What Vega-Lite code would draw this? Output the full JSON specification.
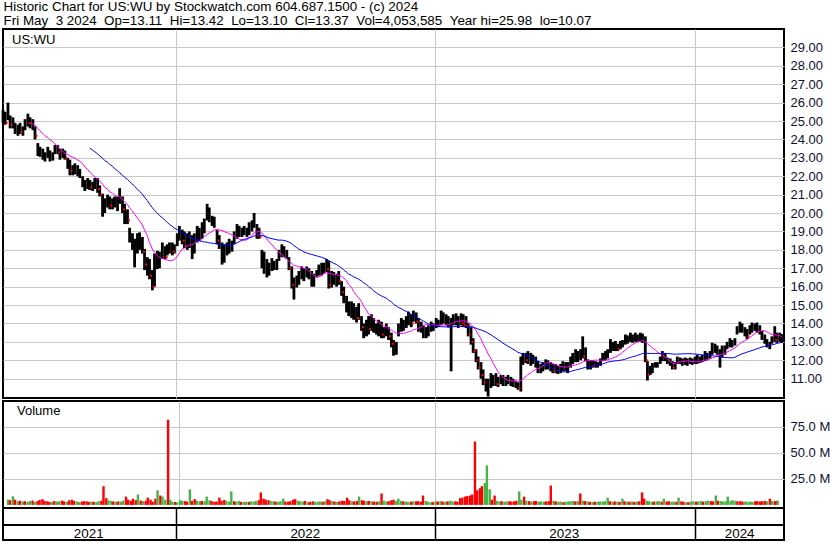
{
"$schema": "https://vega.github.io/schema/vega-lite/v6.json",
"padding": 0,
"background": "white",
"bounds": "flush",
"title": {"text": "Historic Chart for US:WU by Stockwatch.com 604.687.1500 - (c) 2024", "subtitle": "Fri May\u20073 2024\u2007Op=13.11\u2007Hi=13.42\u2007Lo=13.10\u2007Cl=13.37\u2007Vol=4,053,585\u2007Year hi=25.98\u2007lo=10.07", "anchor": "start", "font": "Liberation Sans", "fontSize": 13.4, "fontWeight": "normal", "color": "black", "subtitleFont": "Liberation Sans", "subtitleFontSize": 13.4, "subtitleColor": "black", "subtitlePadding": 0, "offset": 1, "dx": 3},
"datasets": {"p": [
{"d":"2021-05-03","h":25.6,"l":24.9,"c":25.2,"v":5.2},
{"d":"2021-05-06","h":25.5,"l":24.8,"c":24.9,"v":4.5},
{"d":"2021-05-10","h":26.0,"l":25.05,"c":25.7,"v":8.3},
{"d":"2021-05-13","h":25.3,"l":24.6,"c":24.8,"v":5.0},
{"d":"2021-05-17","h":25.2,"l":24.6,"c":25.0,"v":3.6},
{"d":"2021-05-20","h":24.9,"l":24.3,"c":24.5,"v":4.0},
{"d":"2021-05-24","h":24.8,"l":24.2,"c":24.6,"v":3.2},
{"d":"2021-05-27","h":24.9,"l":24.3,"c":24.4,"v":3.5},
{"d":"2021-05-31","h":24.7,"l":24.2,"c":24.5,"v":2.9},
{"d":"2021-06-03","h":25.1,"l":24.5,"c":25.0,"v":3.8},
{"d":"2021-06-07","h":25.4,"l":24.7,"c":24.9,"v":4.2},
{"d":"2021-06-10","h":25.2,"l":24.6,"c":25.1,"v":3.1},
{"d":"2021-06-14","h":25.1,"l":24.5,"c":24.7,"v":3.6},
{"d":"2021-06-17","h":24.7,"l":24.0,"c":24.2,"v":4.8},
{"d":"2021-06-21","h":23.8,"l":23.1,"c":23.4,"v":5.5},
{"d":"2021-06-24","h":23.6,"l":23.05,"c":23.3,"v":3.9},
{"d":"2021-06-28","h":23.5,"l":22.9,"c":23.2,"v":3.4},
{"d":"2021-07-01","h":23.3,"l":22.8,"c":23.1,"v":2.8},
{"d":"2021-07-05","h":23.6,"l":23.0,"c":23.4,"v":3.0},
{"d":"2021-07-08","h":23.4,"l":22.8,"c":23.0,"v":3.7},
{"d":"2021-07-12","h":23.3,"l":22.85,"c":23.2,"v":3.2},
{"d":"2021-07-15","h":23.7,"l":23.2,"c":23.6,"v":3.5},
{"d":"2021-07-19","h":23.7,"l":23.2,"c":23.3,"v":4.1},
{"d":"2021-07-22","h":23.5,"l":22.9,"c":23.1,"v":3.3},
{"d":"2021-07-26","h":23.5,"l":23.0,"c":23.4,"v":2.9},
{"d":"2021-07-29","h":23.4,"l":22.9,"c":23.0,"v":4.4},
{"d":"2021-08-02","h":23.0,"l":22.4,"c":22.6,"v":5.0},
{"d":"2021-08-05","h":22.9,"l":22.05,"c":22.3,"v":3.8},
{"d":"2021-08-09","h":22.6,"l":22.05,"c":22.4,"v":3.3},
{"d":"2021-08-12","h":22.7,"l":22.1,"c":22.5,"v":2.7},
{"d":"2021-08-16","h":22.6,"l":22.0,"c":22.2,"v":3.1},
{"d":"2021-08-19","h":22.4,"l":21.9,"c":22.1,"v":3.6},
{"d":"2021-08-23","h":22.0,"l":21.4,"c":21.6,"v":3.4},
{"d":"2021-08-26","h":21.8,"l":21.2,"c":21.5,"v":2.9},
{"d":"2021-08-30","h":21.9,"l":21.3,"c":21.7,"v":3.2},
{"d":"2021-09-02","h":21.8,"l":21.25,"c":21.4,"v":3.0},
{"d":"2021-09-06","h":21.7,"l":21.2,"c":21.6,"v":2.6},
{"d":"2021-09-09","h":21.9,"l":21.3,"c":21.7,"v":3.5},
{"d":"2021-09-13","h":21.9,"l":21.1,"c":21.3,"v":4.0},
{"d":"2021-09-16","h":21.5,"l":20.9,"c":21.0,"v":18.0},
{"d":"2021-09-20","h":21.05,"l":19.8,"c":20.2,"v":6.5},
{"d":"2021-09-23","h":20.8,"l":20.0,"c":20.6,"v":4.5},
{"d":"2021-09-27","h":21.0,"l":20.3,"c":20.8,"v":3.8},
{"d":"2021-09-30","h":20.9,"l":20.2,"c":20.4,"v":3.4},
{"d":"2021-10-04","h":20.8,"l":20.2,"c":20.6,"v":3.0},
{"d":"2021-10-07","h":20.9,"l":20.3,"c":20.5,"v":3.3},
{"d":"2021-10-11","h":20.9,"l":20.1,"c":20.7,"v":3.1},
{"d":"2021-10-14","h":21.35,"l":20.5,"c":21.1,"v":4.2},
{"d":"2021-10-18","h":20.9,"l":20.0,"c":20.2,"v":8.0},
{"d":"2021-10-21","h":20.5,"l":19.4,"c":19.8,"v":5.0},
{"d":"2021-10-25","h":20.2,"l":19.4,"c":19.6,"v":4.0},
{"d":"2021-10-28","h":19.2,"l":18.4,"c":18.7,"v":6.0},
{"d":"2021-11-01","h":18.9,"l":18.0,"c":18.4,"v":4.5},
{"d":"2021-11-04","h":18.6,"l":17.05,"c":18.5,"v":10.0},
{"d":"2021-11-08","h":18.9,"l":17.8,"c":18.2,"v":4.2},
{"d":"2021-11-11","h":18.95,"l":18.0,"c":18.6,"v":3.6},
{"d":"2021-11-15","h":18.7,"l":17.8,"c":17.9,"v":3.9},
{"d":"2021-11-18","h":18.05,"l":16.9,"c":17.2,"v":7.0},
{"d":"2021-11-22","h":17.6,"l":16.6,"c":17.0,"v":5.0},
{"d":"2021-11-25","h":17.5,"l":16.4,"c":16.6,"v":3.0},
{"d":"2021-11-29","h":16.9,"l":15.8,"c":16.0,"v":6.0},
{"d":"2021-12-02","h":17.8,"l":16.0,"c":17.6,"v":14.0},
{"d":"2021-12-06","h":17.95,"l":16.95,"c":17.3,"v":9.0},
{"d":"2021-12-09","h":17.9,"l":17.0,"c":17.7,"v":8.0},
{"d":"2021-12-13","h":18.4,"l":17.5,"c":17.9,"v":5.0},
{"d":"2021-12-17","h":18.2,"l":17.5,"c":17.6,"v":82.0},
{"d":"2021-12-20","h":18.3,"l":17.7,"c":18.0,"v":5.0},
{"d":"2021-12-23","h":18.4,"l":17.8,"c":18.2,"v":3.0},
{"d":"2021-12-27","h":18.4,"l":17.7,"c":17.9,"v":2.8},
{"d":"2021-12-30","h":18.3,"l":17.8,"c":18.1,"v":2.5},
{"d":"2022-01-03","h":18.9,"l":18.2,"c":18.7,"v":4.5},
{"d":"2022-01-06","h":19.3,"l":18.5,"c":19.0,"v":4.0},
{"d":"2022-01-10","h":19.1,"l":18.3,"c":18.5,"v":3.6},
{"d":"2022-01-13","h":19.0,"l":18.1,"c":18.2,"v":3.2},
{"d":"2022-01-17","h":18.9,"l":18.0,"c":18.7,"v":15.0},
{"d":"2022-01-20","h":19.0,"l":18.1,"c":18.4,"v":4.0},
{"d":"2022-01-24","h":18.8,"l":17.5,"c":18.0,"v":5.5},
{"d":"2022-01-27","h":18.9,"l":17.8,"c":18.6,"v":4.0},
{"d":"2022-01-31","h":19.3,"l":18.4,"c":19.0,"v":3.5},
{"d":"2022-02-03","h":19.2,"l":18.5,"c":18.8,"v":3.8},
{"d":"2022-02-07","h":19.5,"l":18.6,"c":19.2,"v":3.4},
{"d":"2022-02-10","h":19.7,"l":18.9,"c":19.5,"v":8.0},
{"d":"2022-02-14","h":20.5,"l":19.6,"c":20.2,"v":4.5},
{"d":"2022-02-17","h":20.3,"l":19.5,"c":19.8,"v":3.7},
{"d":"2022-02-21","h":19.85,"l":19.3,"c":19.6,"v":3.0},
{"d":"2022-02-24","h":19.8,"l":19.2,"c":19.4,"v":3.3},
{"d":"2022-02-28","h":19.1,"l":18.3,"c":18.5,"v":7.0},
{"d":"2022-03-03","h":18.8,"l":18.05,"c":18.4,"v":4.0},
{"d":"2022-03-07","h":18.4,"l":17.2,"c":17.6,"v":4.8},
{"d":"2022-03-10","h":18.3,"l":17.3,"c":17.9,"v":3.6},
{"d":"2022-03-14","h":18.4,"l":17.7,"c":18.2,"v":3.1},
{"d":"2022-03-17","h":18.6,"l":17.8,"c":18.4,"v":13.0},
{"d":"2022-03-21","h":18.5,"l":17.9,"c":18.3,"v":3.5},
{"d":"2022-03-24","h":19.0,"l":18.3,"c":18.8,"v":3.2},
{"d":"2022-03-28","h":19.4,"l":18.6,"c":19.1,"v":3.8},
{"d":"2022-03-31","h":19.3,"l":18.7,"c":18.9,"v":3.0},
{"d":"2022-04-04","h":19.2,"l":18.7,"c":19.0,"v":2.7},
{"d":"2022-04-07","h":19.3,"l":18.8,"c":19.1,"v":3.1},
{"d":"2022-04-11","h":19.2,"l":18.7,"c":18.9,"v":2.9},
{"d":"2022-04-14","h":19.5,"l":18.8,"c":19.3,"v":3.4},
{"d":"2022-04-18","h":19.6,"l":19.0,"c":19.4,"v":3.2},
{"d":"2022-04-21","h":20.0,"l":19.2,"c":19.7,"v":3.6},
{"d":"2022-04-25","h":19.4,"l":18.6,"c":18.8,"v":4.5},
{"d":"2022-04-28","h":19.2,"l":18.6,"c":18.7,"v":12.0},
{"d":"2022-05-02","h":18.0,"l":17.0,"c":17.3,"v":6.0},
{"d":"2022-05-05","h":17.9,"l":16.7,"c":17.2,"v":5.0},
{"d":"2022-05-09","h":17.5,"l":16.5,"c":16.8,"v":4.5},
{"d":"2022-05-12","h":17.3,"l":16.6,"c":17.0,"v":3.8},
{"d":"2022-05-16","h":17.55,"l":16.85,"c":17.3,"v":3.5},
{"d":"2022-05-19","h":17.4,"l":16.9,"c":17.1,"v":3.2},
{"d":"2022-05-23","h":17.5,"l":16.9,"c":17.4,"v":3.0},
{"d":"2022-05-26","h":18.0,"l":17.4,"c":17.8,"v":3.5},
{"d":"2022-05-30","h":18.3,"l":17.6,"c":18.1,"v":6.0},
{"d":"2022-06-02","h":18.2,"l":17.6,"c":17.8,"v":3.2},
{"d":"2022-06-06","h":18.0,"l":17.5,"c":17.7,"v":3.0},
{"d":"2022-06-09","h":17.6,"l":16.9,"c":17.0,"v":3.6},
{"d":"2022-06-13","h":17.1,"l":15.9,"c":16.1,"v":5.0},
{"d":"2022-06-16","h":16.5,"l":15.3,"c":15.7,"v":5.5},
{"d":"2022-06-20","h":16.6,"l":15.95,"c":16.4,"v":4.0},
{"d":"2022-06-23","h":16.85,"l":16.1,"c":16.6,"v":3.5},
{"d":"2022-06-27","h":17.1,"l":16.4,"c":16.9,"v":3.2},
{"d":"2022-06-30","h":17.0,"l":16.3,"c":16.6,"v":3.8},
{"d":"2022-07-04","h":17.1,"l":16.5,"c":16.9,"v":2.6},
{"d":"2022-07-07","h":17.0,"l":16.4,"c":16.6,"v":3.0},
{"d":"2022-07-11","h":16.85,"l":16.0,"c":16.3,"v":3.4},
{"d":"2022-07-14","h":16.7,"l":16.0,"c":16.5,"v":3.1},
{"d":"2022-07-18","h":16.9,"l":16.5,"c":16.8,"v":2.9},
{"d":"2022-07-21","h":17.2,"l":16.6,"c":17.0,"v":3.3},
{"d":"2022-07-25","h":17.3,"l":16.6,"c":16.9,"v":3.0},
{"d":"2022-07-28","h":17.3,"l":16.7,"c":17.1,"v":3.6},
{"d":"2022-08-01","h":17.5,"l":16.8,"c":16.95,"v":5.5},
{"d":"2022-08-04","h":17.4,"l":15.9,"c":16.1,"v":4.5},
{"d":"2022-08-08","h":16.85,"l":15.95,"c":16.5,"v":3.6},
{"d":"2022-08-11","h":16.8,"l":16.1,"c":16.4,"v":3.2},
{"d":"2022-08-15","h":16.7,"l":16.0,"c":16.5,"v":3.0},
{"d":"2022-08-18","h":16.85,"l":16.1,"c":16.3,"v":3.4},
{"d":"2022-08-22","h":16.3,"l":15.5,"c":15.7,"v":4.0},
{"d":"2022-08-25","h":16.0,"l":15.1,"c":15.4,"v":3.8},
{"d":"2022-08-29","h":15.5,"l":14.6,"c":14.9,"v":7.0},
{"d":"2022-09-01","h":15.2,"l":14.4,"c":14.7,"v":4.5},
{"d":"2022-09-05","h":15.2,"l":14.3,"c":14.9,"v":3.5},
{"d":"2022-09-08","h":15.1,"l":14.2,"c":14.5,"v":3.3},
{"d":"2022-09-12","h":14.9,"l":14.05,"c":14.3,"v":3.8},
{"d":"2022-09-15","h":15.1,"l":14.2,"c":14.8,"v":8.0},
{"d":"2022-09-19","h":14.4,"l":13.6,"c":13.8,"v":4.5},
{"d":"2022-09-22","h":14.0,"l":13.2,"c":13.5,"v":4.0},
{"d":"2022-09-26","h":14.2,"l":13.3,"c":13.9,"v":3.6},
{"d":"2022-09-29","h":14.4,"l":13.4,"c":13.7,"v":3.8},
{"d":"2022-10-03","h":14.5,"l":13.6,"c":14.2,"v":3.4},
{"d":"2022-10-06","h":14.3,"l":13.5,"c":13.8,"v":3.2},
{"d":"2022-10-10","h":14.0,"l":13.4,"c":13.6,"v":3.0},
{"d":"2022-10-13","h":14.2,"l":13.3,"c":13.9,"v":3.5},
{"d":"2022-10-17","h":14.1,"l":13.2,"c":13.4,"v":11.0},
{"d":"2022-10-20","h":13.8,"l":13.2,"c":13.6,"v":4.0},
{"d":"2022-10-24","h":14.0,"l":13.3,"c":13.8,"v":3.3},
{"d":"2022-10-27","h":13.8,"l":13.1,"c":13.3,"v":3.5},
{"d":"2022-10-31","h":13.5,"l":12.7,"c":12.9,"v":4.5},
{"d":"2022-11-03","h":13.1,"l":12.25,"c":12.6,"v":5.0},
{"d":"2022-11-07","h":13.0,"l":12.3,"c":12.8,"v":4.0},
{"d":"2022-11-10","h":14.0,"l":13.3,"c":13.8,"v":6.0},
{"d":"2022-11-14","h":14.3,"l":13.55,"c":14.0,"v":4.0},
{"d":"2022-11-17","h":14.2,"l":13.6,"c":13.8,"v":3.4},
{"d":"2022-11-21","h":14.4,"l":13.75,"c":14.2,"v":3.2},
{"d":"2022-11-24","h":14.65,"l":13.9,"c":14.3,"v":2.8},
{"d":"2022-11-28","h":14.5,"l":13.8,"c":14.0,"v":3.1},
{"d":"2022-12-01","h":14.7,"l":14.1,"c":14.5,"v":3.5},
{"d":"2022-12-05","h":14.6,"l":14.0,"c":14.1,"v":3.3},
{"d":"2022-12-08","h":14.3,"l":13.55,"c":13.8,"v":3.6},
{"d":"2022-12-12","h":14.1,"l":13.5,"c":13.7,"v":3.0},
{"d":"2022-12-15","h":13.9,"l":13.2,"c":13.5,"v":9.0},
{"d":"2022-12-19","h":13.8,"l":13.2,"c":13.6,"v":3.8},
{"d":"2022-12-22","h":13.9,"l":13.3,"c":13.7,"v":3.0},
{"d":"2022-12-26","h":14.1,"l":13.55,"c":13.9,"v":2.5},
{"d":"2022-12-29","h":14.0,"l":13.6,"c":13.8,"v":2.6},
{"d":"2023-01-02","h":14.3,"l":13.75,"c":14.1,"v":3.5},
{"d":"2023-01-05","h":14.2,"l":13.8,"c":14.0,"v":3.2},
{"d":"2023-01-09","h":14.7,"l":13.9,"c":14.5,"v":3.6},
{"d":"2023-01-12","h":14.6,"l":14.0,"c":14.2,"v":3.3},
{"d":"2023-01-16","h":14.5,"l":13.9,"c":14.3,"v":3.0},
{"d":"2023-01-19","h":14.4,"l":13.8,"c":14.0,"v":3.4},
{"d":"2023-01-23","h":14.3,"l":11.4,"c":14.1,"v":4.0},
{"d":"2023-01-26","h":14.5,"l":13.9,"c":14.3,"v":3.2},
{"d":"2023-01-30","h":14.55,"l":13.9,"c":14.2,"v":3.5},
{"d":"2023-02-02","h":14.4,"l":13.75,"c":14.1,"v":3.1},
{"d":"2023-02-06","h":14.55,"l":13.9,"c":14.0,"v":6.5},
{"d":"2023-02-09","h":14.5,"l":13.8,"c":13.9,"v":7.0},
{"d":"2023-02-13","h":14.4,"l":13.75,"c":13.85,"v":8.0},
{"d":"2023-02-16","h":14.0,"l":13.3,"c":13.4,"v":8.5},
{"d":"2023-02-20","h":13.8,"l":12.85,"c":13.0,"v":9.0},
{"d":"2023-02-23","h":13.2,"l":12.4,"c":12.5,"v":10.0},
{"d":"2023-02-27","h":12.6,"l":11.9,"c":12.0,"v":61.0},
{"d":"2023-03-02","h":12.2,"l":11.5,"c":11.6,"v":14.0},
{"d":"2023-03-06","h":11.9,"l":11.0,"c":11.2,"v":16.0},
{"d":"2023-03-09","h":11.5,"l":10.65,"c":10.8,"v":18.0},
{"d":"2023-03-13","h":11.0,"l":10.3,"c":10.9,"v":21.0},
{"d":"2023-03-16","h":11.0,"l":10.03,"c":10.95,"v":38.0},
{"d":"2023-03-20","h":11.3,"l":10.5,"c":11.1,"v":15.0},
{"d":"2023-03-23","h":11.2,"l":10.6,"c":10.8,"v":5.0},
{"d":"2023-03-27","h":11.3,"l":10.6,"c":10.7,"v":9.0},
{"d":"2023-03-30","h":11.1,"l":10.55,"c":10.9,"v":4.0},
{"d":"2023-04-03","h":11.2,"l":10.7,"c":11.0,"v":3.4},
{"d":"2023-04-06","h":11.2,"l":10.6,"c":10.8,"v":3.5},
{"d":"2023-04-10","h":11.1,"l":10.6,"c":10.9,"v":3.0},
{"d":"2023-04-13","h":11.2,"l":10.7,"c":11.0,"v":3.3},
{"d":"2023-04-17","h":11.1,"l":10.6,"c":10.8,"v":3.6},
{"d":"2023-04-20","h":11.0,"l":10.55,"c":10.7,"v":3.1},
{"d":"2023-04-24","h":10.9,"l":10.5,"c":10.65,"v":3.4},
{"d":"2023-04-27","h":10.8,"l":10.4,"c":10.5,"v":4.0},
{"d":"2023-05-01","h":12.2,"l":10.3,"c":12.0,"v":13.0},
{"d":"2023-05-04","h":12.4,"l":11.75,"c":12.1,"v":5.0},
{"d":"2023-05-08","h":12.4,"l":11.85,"c":12.0,"v":8.0},
{"d":"2023-05-11","h":12.5,"l":11.8,"c":12.3,"v":4.0},
{"d":"2023-05-15","h":12.4,"l":11.7,"c":12.0,"v":3.6},
{"d":"2023-05-18","h":12.3,"l":11.8,"c":12.1,"v":3.2},
{"d":"2023-05-22","h":12.2,"l":11.6,"c":11.8,"v":3.5},
{"d":"2023-05-25","h":11.95,"l":11.3,"c":11.5,"v":3.8},
{"d":"2023-05-29","h":11.8,"l":11.3,"c":11.6,"v":3.0},
{"d":"2023-06-01","h":11.9,"l":11.4,"c":11.8,"v":3.4},
{"d":"2023-06-05","h":12.05,"l":11.5,"c":11.9,"v":3.1},
{"d":"2023-06-08","h":12.0,"l":11.5,"c":11.7,"v":3.3},
{"d":"2023-06-12","h":11.9,"l":11.4,"c":11.6,"v":3.6},
{"d":"2023-06-15","h":11.8,"l":11.3,"c":11.4,"v":18.6},
{"d":"2023-06-19","h":11.8,"l":11.3,"c":11.6,"v":4.0},
{"d":"2023-06-22","h":11.7,"l":11.25,"c":11.4,"v":3.4},
{"d":"2023-06-26","h":11.8,"l":11.3,"c":11.6,"v":3.0},
{"d":"2023-06-29","h":11.95,"l":11.4,"c":11.8,"v":3.2},
{"d":"2023-07-03","h":11.9,"l":11.4,"c":11.6,"v":2.6},
{"d":"2023-07-06","h":11.9,"l":11.3,"c":11.7,"v":3.1},
{"d":"2023-07-10","h":12.2,"l":11.6,"c":12.0,"v":3.3},
{"d":"2023-07-13","h":12.4,"l":11.8,"c":12.2,"v":3.5},
{"d":"2023-07-17","h":12.6,"l":11.9,"c":12.4,"v":3.8},
{"d":"2023-07-20","h":12.5,"l":11.9,"c":12.1,"v":3.4},
{"d":"2023-07-24","h":12.6,"l":12.0,"c":12.3,"v":3.6},
{"d":"2023-07-27","h":13.3,"l":12.1,"c":12.2,"v":11.0},
{"d":"2023-07-31","h":12.7,"l":11.95,"c":12.2,"v":4.0},
{"d":"2023-08-03","h":12.05,"l":11.5,"c":11.7,"v":3.6},
{"d":"2023-08-07","h":12.0,"l":11.5,"c":11.8,"v":3.2},
{"d":"2023-08-10","h":12.0,"l":11.6,"c":11.7,"v":3.0},
{"d":"2023-08-14","h":11.95,"l":11.6,"c":11.8,"v":2.8},
{"d":"2023-08-17","h":11.9,"l":11.6,"c":11.7,"v":3.1},
{"d":"2023-08-21","h":12.1,"l":11.7,"c":11.95,"v":3.0},
{"d":"2023-08-24","h":12.4,"l":11.95,"c":12.2,"v":3.4},
{"d":"2023-08-28","h":12.5,"l":12.0,"c":12.3,"v":3.2},
{"d":"2023-08-31","h":12.6,"l":12.1,"c":12.5,"v":3.5},
{"d":"2023-09-04","h":13.15,"l":12.4,"c":12.9,"v":7.0},
{"d":"2023-09-07","h":13.0,"l":12.5,"c":12.7,"v":3.6},
{"d":"2023-09-11","h":13.05,"l":12.5,"c":12.8,"v":3.0},
{"d":"2023-09-14","h":12.9,"l":12.5,"c":12.6,"v":3.3},
{"d":"2023-09-18","h":13.05,"l":12.6,"c":12.9,"v":3.1},
{"d":"2023-09-21","h":13.1,"l":12.7,"c":12.85,"v":2.9},
{"d":"2023-09-25","h":13.4,"l":12.85,"c":13.2,"v":6.0},
{"d":"2023-09-28","h":13.35,"l":12.9,"c":13.1,"v":3.4},
{"d":"2023-10-02","h":13.5,"l":13.0,"c":13.3,"v":3.1},
{"d":"2023-10-05","h":13.4,"l":12.95,"c":13.1,"v":3.0},
{"d":"2023-10-09","h":13.5,"l":13.0,"c":13.3,"v":3.3},
{"d":"2023-10-12","h":13.4,"l":13.0,"c":13.2,"v":2.9},
{"d":"2023-10-16","h":13.5,"l":13.0,"c":13.3,"v":3.2},
{"d":"2023-10-19","h":13.45,"l":12.95,"c":13.2,"v":3.4},
{"d":"2023-10-23","h":13.3,"l":11.9,"c":12.0,"v":12.0},
{"d":"2023-10-26","h":11.95,"l":10.9,"c":11.2,"v":6.0},
{"d":"2023-10-30","h":11.7,"l":11.2,"c":11.5,"v":4.0},
{"d":"2023-11-02","h":11.85,"l":11.3,"c":11.7,"v":3.5},
{"d":"2023-11-06","h":11.9,"l":11.6,"c":11.8,"v":3.0},
{"d":"2023-11-09","h":11.9,"l":11.6,"c":11.75,"v":3.2},
{"d":"2023-11-13","h":12.2,"l":11.8,"c":12.0,"v":3.4},
{"d":"2023-11-16","h":12.5,"l":11.95,"c":12.3,"v":3.6},
{"d":"2023-11-20","h":12.4,"l":11.95,"c":12.1,"v":3.1},
{"d":"2023-11-23","h":12.15,"l":11.8,"c":12.1,"v":6.0},
{"d":"2023-11-27","h":12.1,"l":11.7,"c":11.9,"v":3.3},
{"d":"2023-11-30","h":11.95,"l":11.5,"c":11.6,"v":3.5},
{"d":"2023-12-04","h":11.9,"l":11.5,"c":11.8,"v":3.0},
{"d":"2023-12-07","h":12.2,"l":11.8,"c":12.0,"v":3.2},
{"d":"2023-12-11","h":12.15,"l":11.8,"c":11.95,"v":3.0},
{"d":"2023-12-14","h":12.1,"l":11.7,"c":12.0,"v":7.0},
{"d":"2023-12-18","h":12.15,"l":11.75,"c":11.9,"v":3.4},
{"d":"2023-12-21","h":12.1,"l":11.7,"c":11.85,"v":2.9},
{"d":"2023-12-25","h":12.15,"l":11.8,"c":12.0,"v":2.4},
{"d":"2023-12-28","h":12.1,"l":11.75,"c":11.9,"v":2.6},
{"d":"2024-01-01","h":12.2,"l":11.8,"c":12.0,"v":3.2},
{"d":"2024-01-04","h":12.3,"l":11.8,"c":12.1,"v":3.5},
{"d":"2024-01-08","h":12.2,"l":11.85,"c":12.0,"v":3.1},
{"d":"2024-01-11","h":12.3,"l":11.9,"c":12.15,"v":3.4},
{"d":"2024-01-15","h":12.5,"l":11.95,"c":12.3,"v":3.6},
{"d":"2024-01-18","h":12.4,"l":12.0,"c":12.2,"v":3.2},
{"d":"2024-01-22","h":12.5,"l":12.1,"c":12.4,"v":3.5},
{"d":"2024-01-25","h":12.95,"l":12.3,"c":12.7,"v":4.0},
{"d":"2024-01-29","h":12.9,"l":12.4,"c":12.6,"v":3.6},
{"d":"2024-02-01","h":12.8,"l":12.3,"c":12.5,"v":3.4},
{"d":"2024-02-05","h":12.6,"l":11.6,"c":12.6,"v":9.0},
{"d":"2024-02-08","h":12.8,"l":12.15,"c":12.4,"v":4.0},
{"d":"2024-02-12","h":12.8,"l":12.3,"c":12.6,"v":3.6},
{"d":"2024-02-15","h":13.0,"l":12.6,"c":12.9,"v":3.3},
{"d":"2024-02-19","h":13.2,"l":12.7,"c":12.9,"v":3.5},
{"d":"2024-02-22","h":13.1,"l":12.7,"c":13.0,"v":8.0},
{"d":"2024-02-26","h":13.2,"l":12.8,"c":13.1,"v":3.8},
{"d":"2024-02-29","h":13.85,"l":13.4,"c":13.7,"v":4.5},
{"d":"2024-03-04","h":14.1,"l":13.5,"c":13.9,"v":4.0},
{"d":"2024-03-07","h":14.0,"l":13.5,"c":13.7,"v":3.4},
{"d":"2024-03-11","h":13.8,"l":13.3,"c":13.5,"v":3.6},
{"d":"2024-03-14","h":13.7,"l":13.15,"c":13.3,"v":3.1},
{"d":"2024-03-18","h":13.9,"l":13.4,"c":13.7,"v":3.3},
{"d":"2024-03-21","h":14.05,"l":13.5,"c":13.8,"v":3.0},
{"d":"2024-03-25","h":14.0,"l":13.6,"c":13.8,"v":3.2},
{"d":"2024-03-28","h":14.05,"l":13.5,"c":13.9,"v":2.9},
{"d":"2024-04-01","h":13.9,"l":13.4,"c":13.6,"v":3.4},
{"d":"2024-04-04","h":13.6,"l":13.1,"c":13.3,"v":3.6},
{"d":"2024-04-08","h":13.4,"l":12.9,"c":13.1,"v":3.3},
{"d":"2024-04-11","h":13.15,"l":12.7,"c":12.9,"v":3.5},
{"d":"2024-04-15","h":13.0,"l":12.6,"c":12.8,"v":3.8},
{"d":"2024-04-18","h":13.3,"l":12.9,"c":13.2,"v":3.4},
{"d":"2024-04-22","h":13.85,"l":13.0,"c":13.1,"v":6.0},
{"d":"2024-04-25","h":13.5,"l":12.95,"c":13.3,"v":3.8},
{"d":"2024-04-29","h":13.5,"l":13.0,"c":13.2,"v":3.6},
{"d":"2024-05-02","h":13.4,"l":12.95,"c":13.11,"v":3.9},
{"d":"2024-05-03","h":13.42,"l":13.1,"c":13.37,"v":4.05}
]},
"config": {
  "view": {"stroke": "black", "strokeWidth": 2},
  "font": "Liberation Sans",
  "axis": {"labelFont": "Liberation Sans", "title": null}
},
"spacing": 3,
"vconcat": [
  {
    "width": 781, "height": 369,
    "layer": [
      {"data": {"name": "p"},
       "mark": {"type": "rule", "color": "black", "strokeWidth": 2.8},
       "encoding": {
         "x": {"field": "d", "type": "temporal",
           "scale": {"type": "utc", "domain": [{"year": 2021, "month": 5, "date": 3, "utc": true}, {"year": 2024, "month": 5, "date": 5, "utc": true}]},
           "axis": {"values": [{"year": 2022, "month": 1, "date": 1, "utc": true}, {"year": 2023, "month": 1, "date": 1, "utc": true}, {"year": 2024, "month": 1, "date": 1, "utc": true}], "grid": true, "gridColor": "#c8c8c8", "labels": false, "ticks": false, "domain": false, "title": null}},
         "y": {"field": "l", "type": "quantitative", "scale": {"domain": [9.95, 30], "nice": false, "zero": false},
           "axis": {"orient": "right", "values": [11,12,13,14,15,16,17,18,19,20,21,22,23,24,25,26,27,28,29], "format": ".2f", "grid": true, "gridColor": "#c8c8c8", "ticks": false, "domain": false, "labelOverlap": false, "labelFontSize": 13, "labelColor": "#101030", "labelPadding": 6, "title": null}},
         "y2": {"field": "h"}}},
      {"data": {"name": "p"},
       "transform": [{"filter": "(datum.c - datum.l) <= 0.3 * (datum.h - datum.l)"}],
       "mark": {"type": "point", "shape": "square", "filled": true, "color": "red", "size": 4, "xOffset": 1.5, "opacity": 1},
       "encoding": {"x": {"field": "d", "type": "temporal"},
         "y": {"field": "c", "type": "quantitative",
           "axis": {"orient": "right", "values": [11,12,13,14,15,16,17,18,19,20,21,22,23,24,25,26,27,28,29], "format": ".2f", "grid": true, "gridColor": "#c8c8c8", "ticks": false, "domain": false, "labelOverlap": false, "labelFontSize": 13, "labelColor": "#101030", "labelPadding": 6, "title": null}}}},
      {"data": {"name": "p"},
       "transform": [{"window": [{"op": "mean", "field": "c", "as": "m1"}, {"op": "count", "as": "n1"}], "frame": [-11, 0], "sort": [{"field": "d"}]}, {"filter": "datum.n1 >= 12"}],
       "mark": {"type": "line", "color": "#ff00ff", "strokeWidth": 1},
       "encoding": {"x": {"field": "d", "type": "temporal"},
         "y": {"field": "m1", "type": "quantitative",
           "axis": {"orient": "right", "values": [11,12,13,14,15,16,17,18,19,20,21,22,23,24,25,26,27,28,29], "format": ".2f", "grid": true, "gridColor": "#c8c8c8", "ticks": false, "domain": false, "labelOverlap": false, "labelFontSize": 13, "labelColor": "#101030", "labelPadding": 6, "title": null}}}},
      {"data": {"name": "p"},
       "transform": [{"window": [{"op": "mean", "field": "c", "as": "m2"}, {"op": "count", "as": "n2"}], "frame": [-35, 0], "sort": [{"field": "d"}]}, {"filter": "datum.n2 >= 36"}],
       "mark": {"type": "line", "color": "#0000ff", "strokeWidth": 1},
       "encoding": {"x": {"field": "d", "type": "temporal"},
         "y": {"field": "m2", "type": "quantitative",
           "axis": {"orient": "right", "values": [11,12,13,14,15,16,17,18,19,20,21,22,23,24,25,26,27,28,29], "format": ".2f", "grid": true, "gridColor": "#c8c8c8", "ticks": false, "domain": false, "labelOverlap": false, "labelFontSize": 13, "labelColor": "#101030", "labelPadding": 6, "title": null}}}},
      {"data": {"values": [{"label": "US:WU", "at": "2021-05-03", "y": 29.4}]},
       "mark": {"type": "text", "align": "left", "baseline": "middle", "dx": 9, "fontSize": 13, "color": "black"},
       "encoding": {"x": {"field": "at", "type": "temporal"},
         "y": {"field": "y", "type": "quantitative",
           "axis": {"orient": "right", "values": [11,12,13,14,15,16,17,18,19,20,21,22,23,24,25,26,27,28,29], "format": ".2f", "grid": true, "gridColor": "#c8c8c8", "ticks": false, "domain": false, "labelOverlap": false, "labelFontSize": 13, "labelColor": "#101030", "labelPadding": 6, "title": null}},
         "text": {"field": "label"}}}
    ]
  },
  {
    "spacing": 0,
    "bounds": "flush",
    "vconcat": [
      {
        "width": 781, "height": 107,
        "layer": [
          {"data": {"name": "p"},
           "transform": [{"window": [{"op": "lag", "field": "c", "as": "pc"}], "sort": [{"field": "d"}]}],
           "mark": {"type": "bar", "size": 2.4},
           "encoding": {
             "x": {"field": "d", "type": "temporal",
               "scale": {"type": "utc", "domain": [{"year": 2021, "month": 5, "date": 3, "utc": true}, {"year": 2024, "month": 5, "date": 5, "utc": true}]},
               "axis": {"values": [{"year": 2022, "month": 1, "date": 1, "utc": true}, {"year": 2023, "month": 1, "date": 1, "utc": true}, {"year": 2024, "month": 1, "date": 1, "utc": true}], "grid": true, "gridColor": "#c8c8c8", "labels": false, "ticks": false, "domain": false, "title": null}},
             "y": {"field": "v", "type": "quantitative", "scale": {"domain": [-3, 100], "nice": false},
               "axis": {"orient": "right", "values": [25, 50, 75], "labelExpr": "format(datum.value, '.1f') + ' M'", "grid": true, "gridColor": "#c8c8c8", "ticks": false, "domain": false, "labelFontSize": 13, "labelColor": "#101030", "labelPadding": 6, "title": null}},
             "color": {"condition": {"test": "datum.pc == null || datum.c >= datum.pc", "value": "#46b446"}, "value": "#ff0000"}}},
          {"data": {"values": [{"label": "Volume", "at": "2021-05-03", "y": 90.5}]},
           "mark": {"type": "text", "align": "left", "baseline": "middle", "dx": 9, "fontSize": 13, "color": "black"},
           "encoding": {"x": {"field": "at", "type": "temporal"},
             "y": {"field": "y", "type": "quantitative",
               "axis": {"orient": "right", "values": [25, 50, 75], "labelExpr": "format(datum.value, '.1f') + ' M'", "grid": true, "gridColor": "#c8c8c8", "ticks": false, "domain": false, "labelFontSize": 13, "labelColor": "#101030", "labelPadding": 6, "title": null}},
             "text": {"field": "label"}}}
        ]
      },
      {
        "width": 781, "height": 17,
        "data": {"name": "p"},
        "mark": {"type": "tick", "opacity": 0},
        "encoding": {
          "x": {"field": "d", "type": "temporal",
            "scale": {"type": "utc", "domain": [{"year": 2021, "month": 5, "date": 3, "utc": true}, {"year": 2024, "month": 5, "date": 5, "utc": true}]},
            "axis": {"values": [{"year": 2022, "month": 1, "date": 1, "utc": true}, {"year": 2023, "month": 1, "date": 1, "utc": true}, {"year": 2024, "month": 1, "date": 1, "utc": true}], "grid": true, "gridColor": "black", "gridWidth": 1.5, "labels": false, "ticks": false, "domain": false, "title": null}}
        }
      },
      {
        "width": 781, "height": 15,
        "data": {"name": "p"},
        "mark": {"type": "text", "fontSize": 13.4, "color": "black", "baseline": "middle", "dy": 1},
        "encoding": {
          "x": {"field": "d", "aggregate": "mean", "type": "temporal",
            "scale": {"type": "utc", "domain": [{"year": 2021, "month": 5, "date": 3, "utc": true}, {"year": 2024, "month": 5, "date": 5, "utc": true}]},
            "axis": {"values": [{"year": 2022, "month": 1, "date": 1, "utc": true}, {"year": 2023, "month": 1, "date": 1, "utc": true}, {"year": 2024, "month": 1, "date": 1, "utc": true}], "grid": true, "gridColor": "black", "gridWidth": 1.5, "labels": false, "ticks": false, "domain": false, "title": null}},
          "text": {"field": "d", "timeUnit": "utcyear", "type": "ordinal"}
        }
      }
    ]
  }
]
}
